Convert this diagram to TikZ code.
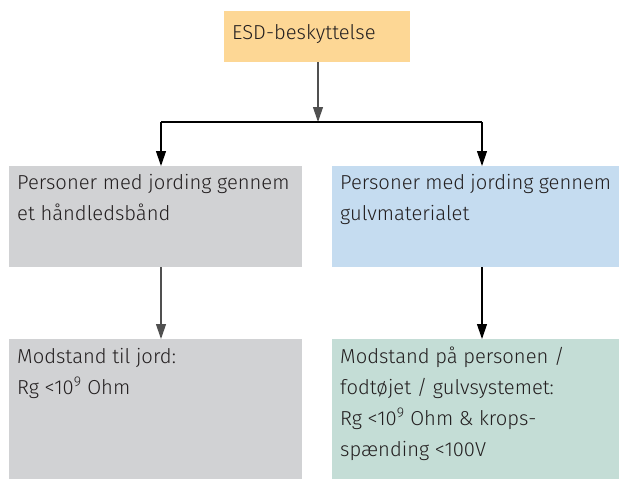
\documentclass[tikz,border=0pt]{standalone}
\usepackage{fontspec}
\setmainfont{Fira Sans}[UprightFont=* Light]
\usetikzlibrary{arrows.meta}

\definecolor{esdorange}{HTML}{FDD795}
\definecolor{esdgray}{HTML}{D1D2D4}
\definecolor{esdblue}{HTML}{C5DCF0}
\definecolor{esdgreen}{HTML}{C4DDD6}
\definecolor{esdtext}{HTML}{231F20}
\definecolor{esdline}{HTML}{505050}

% box text: height, width, first baseline, text
\newcommand{\boxtext}[4]{\parbox[t][#1][t]{#2}{\rule{0pt}{#3}#4}}

\tikzset{
  esdbox/.style={anchor=north west, inner xsep=8pt, inner ysep=0pt,
    font=\fontsize{20.2}{31}\selectfont, text=esdtext},
  esdarrow/.style={line width=1.2pt, -{Triangle[width=10pt,length=15pt]}}
}

\begin{document}
\begin{tikzpicture}[x=1pt,y=-1pt]
  \useasboundingbox (0,0) rectangle (619,479);

  \node[esdbox, fill=esdorange] (top) at (224,11) {\boxtext{51pt}{170pt}{28pt}{ESD-beskyttelse}};
  \node[esdbox, fill=esdgray] (midl) at (9,166) {\boxtext{101pt}{277pt}{23pt}{Personer med jording gennem\\et håndledsbånd}};
  \node[esdbox, fill=esdblue] (midr) at (332,166) {\boxtext{101pt}{271pt}{23pt}{Personer med jording gennem\\gulvmaterialet}};
  \node[esdbox, fill=esdgray] (botl) at (9,339) {\boxtext{140pt}{277pt}{24pt}{Modstand til jord:\\Rg <10\textsuperscript{9} Ohm}};
  \node[esdbox, fill=esdgreen] (botr) at (332,339) {\boxtext{140pt}{271pt}{24pt}{Modstand på personen /\\fodtøjet / gulvsystemet:\\Rg <10\textsuperscript{9} Ohm \& krops-\\spænding <100V}};

  \coordinate (hub) at (318,122);
  \coordinate (hl) at (161,122);
  \coordinate (hr) at (482,122);

  \draw[esdarrow, esdline] (top.south -| hub) -- (hub);
  \draw[line width=1.2pt] (hl) -- (hr);
  \draw[esdarrow] (hl) -- (hl |- midl.north);
  \draw[esdarrow] (hr) -- (hr |- midr.north);
  \draw[esdarrow, esdline] (hl |- midl.south) -- (hl |- botl.north);
  \draw[esdarrow, black] (hr |- midr.south) -- (hr |- botr.north);
\end{tikzpicture}
\end{document}
